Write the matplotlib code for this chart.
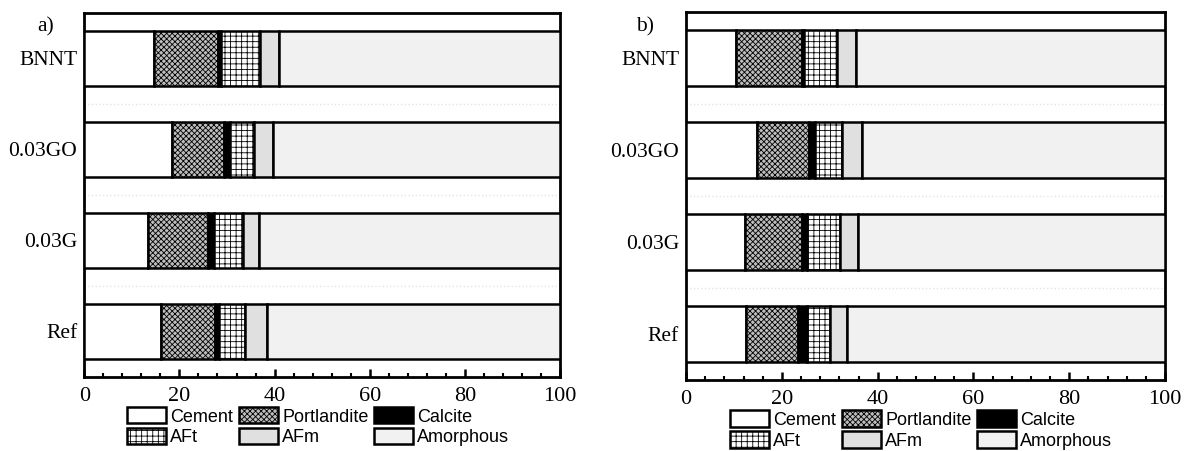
import numpy as np
import matplotlib
matplotlib.use("Agg")
import matplotlib.pyplot as plt
from matplotlib.ticker import MultipleLocator

# Samples (bottom to top)
samples = ["Ref", "0.03G", "0.03GO", "BNNT"]
phases = ["Cement", "Portlandite", "Calcite", "AFt", "AFm", "Amorphous"]

# Panel a) phase contents (%), order: Ref, 0.03G, 0.03GO, BNNT
a_cement = [16.1, 13.4, 18.5, 14.7]
a_portlandite = [11.4, 12.7, 10.8, 13.4]
a_calcite = [0.9, 1.1, 1.4, 0.7]
a_aft = [5.4, 6.1, 4.9, 8.2]
a_afm = [4.6, 3.4, 4.0, 3.9]

# Panel b)
b_cement = [12.5, 12.2, 14.8, 10.4]
b_portlandite = [10.9, 12.0, 10.8, 13.7]
b_calcite = [1.8, 1.0, 1.3, 0.5]
b_aft = [4.9, 7.0, 5.7, 6.9]
b_afm = [3.6, 3.6, 4.2, 4.0]

styles = {
    "Cement": dict(color="white", hatch=None),
    "Portlandite": dict(color="#bdbdbd", hatch="xxxxxx"),
    "Calcite": dict(color="black", hatch=None),
    "AFt": dict(color="white", hatch="+++"),
    "AFm": dict(color="#e0e0e0", hatch=None),
    "Amorphous": dict(color="#f1f1f1", hatch=None),
}

plt.rcParams["hatch.linewidth"] = 0.6

fig = plt.figure(figsize=(11.87, 4.51), dpi=100)
ax_a = fig.add_axes([0.0710, 0.1641, 0.4008, 0.8071])
ax_b = fig.add_axes([0.5780, 0.1574, 0.4035, 0.8160])


def draw(ax, cement, portlandite, calcite, aft, afm):
    y = np.arange(len(samples))
    parts = [cement, portlandite, calcite, aft, afm]
    amorphous = 100 - np.sum(parts, axis=0)
    parts.append(amorphous)
    left = np.zeros(len(samples))
    handles = []
    for name, vals in zip(phases, parts):
        st = styles[name]
        h = ax.barh(y, vals, left=left, height=0.6, color=st["color"],
                    hatch=st["hatch"], edgecolor="black", linewidth=1.8,
                    label=name, zorder=3)
        handles.append(h)
        left = left + np.array(vals)
    for g in [0.5, 1.5, 2.5]:
        ax.axhline(g, color="#e4e4e4", linestyle=":", linewidth=1.0, zorder=1)
    ax.set_xlim(0, 100)
    ax.set_ylim(-0.5, 3.5)
    ax.set_yticks(y)
    ax.set_yticklabels(samples, fontfamily="Liberation Serif", fontsize=15.5)
    ax.set_xticks(range(0, 101, 20))
    ax.set_xticklabels([str(v) for v in range(0, 101, 20)],
                       fontfamily="Liberation Serif", fontsize=16)
    ax.xaxis.set_minor_locator(MultipleLocator(4))
    ax.tick_params(axis="x", which="major", direction="in", length=6, width=1.8, pad=7)
    ax.tick_params(axis="x", which="minor", direction="in", length=3, width=1.5)
    ax.tick_params(axis="y", length=0, pad=5)
    for s in ax.spines.values():
        s.set_linewidth(2.0)
    return handles


ha = draw(ax_a, a_cement, a_portlandite, a_calcite, a_aft, a_afm)
hb = draw(ax_b, b_cement, b_portlandite, b_calcite, b_aft, b_afm)

# legend order: row1 Cement, Portlandite, Calcite; row2 AFt, AFm, Amorphous
order = [0, 3, 1, 4, 2, 5]
for ax, hs, xc, ytop in [(ax_a, ha, 0.268, 0.097), (ax_b, hb, 0.776, 0.090)]:
    fig.legend([hs[i] for i in order], [phases[i] for i in order],
               loc="upper center", bbox_to_anchor=(xc, ytop), ncol=3,
               frameon=False, prop={"family": "Liberation Sans", "size": 13},
               handlelength=2.15, handleheight=1.0, handletextpad=0.25,
               columnspacing=0.3, labelspacing=0.15, borderpad=0, borderaxespad=0)

fig.text(0.0388, 0.940, "a)", fontfamily="Liberation Serif", fontsize=15.5,
         ha="center", va="center")
fig.text(0.5434, 0.940, "b)", fontfamily="Liberation Serif", fontsize=15.5,
         ha="center", va="center")

fig.savefig("out.png", dpi=100)
